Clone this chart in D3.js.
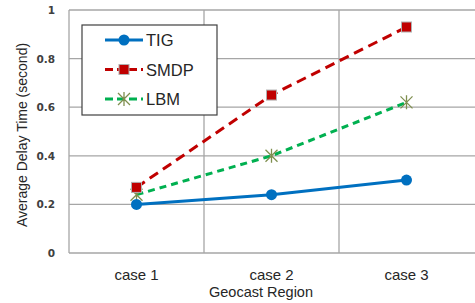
<!DOCTYPE html>
<html><head><meta charset="utf-8">
<script src="https://cdn.jsdelivr.net/npm/d3@7"></script>
<style>body{margin:0;background:#fff}</style>
</head><body>
<svg id="c" width="475" height="303"></svg>
<script>
const categories = ["case 1", "case 2", "case 3"];
const tig = [0.20, 0.24, 0.30];
const smdp = [0.27, 0.65, 0.93];
const lbm = [0.24, 0.40, 0.62];
const yTicks = [0, 0.2, 0.4, 0.6, 0.8, 1];
const seriesNames = ["TIG", "SMDP", "LBM"];

const svg = d3.select("#c");
const L = 69, R = 474, T = 10, B = 253;
const x = d3.scaleBand().domain(categories).range([L, R]);
const y = d3.scaleLinear().domain([0, 1]).range([B, T]);
const grid = "#a6a6a6";

// horizontal grid
svg.append("g").selectAll("line").data(yTicks).join("line")
  .attr("x1", L).attr("x2", 475).attr("y1", d => y(d)).attr("y2", d => y(d))
  .attr("stroke", grid).attr("stroke-width", 1.3);
// vertical grid at band boundaries
const vb = categories.map(c => x(c));
svg.append("g").selectAll("line").data(vb).join("line")
  .attr("x1", d => d).attr("x2", d => d).attr("y1", T).attr("y2", B)
  .attr("stroke", grid).attr("stroke-width", 1.3);

// y tick labels
svg.append("g").selectAll("text").data(yTicks).join("text")
  .attr("x", 55).attr("y", d => y(d) + 4).attr("text-anchor", "end")
  .attr("font-family", "DejaVu Sans, sans-serif").attr("font-size", 10.5).attr("font-weight", "bold")
  .attr("fill", "#404040").text(d => d === 0 ? "0" : d === 1 ? "1" : d.toFixed(1));

// x labels
svg.append("g").selectAll("text").data(categories).join("text")
  .attr("x", d => x(d) + x.bandwidth()/2).attr("y", 280).attr("text-anchor", "middle")
  .attr("font-family", "Liberation Sans, Arial, sans-serif").attr("font-size", 15)
  .attr("fill", "#262626").text(d => d);
svg.append("text").attr("x", 261).attr("y", 297).attr("text-anchor", "middle")
  .attr("font-family", "Liberation Sans, Arial, sans-serif").attr("font-size", 14.5)
  .attr("fill", "#262626").text("Geocast Region");
svg.append("text").attr("transform", "translate(27,135) rotate(-90)").attr("text-anchor", "middle")
  .attr("font-family", "Liberation Sans, Arial, sans-serif").attr("font-size", 14)
  .attr("fill", "#262626").text("Average Delay Time (second)");

const cx = c => x(c) + x.bandwidth()/2;
const line = d3.line().x((d,i) => cx(categories[i])).y(d => y(d));

const styles = [
  {data: tig, color: "#0070C0", dash: null},
  {data: smdp, color: "#C00000", dash: "10,6"},
  {data: lbm, color: "#00B050", dash: "7,5"}
];
styles.forEach(s => {
  svg.append("path").attr("d", line(s.data)).attr("fill", "none")
    .attr("stroke", s.color).attr("stroke-width", 3).attr("stroke-dasharray", s.dash);
});

function circleMark(g, px, py) {
  g.append("circle").attr("cx", px).attr("cy", py).attr("r", 5.5).attr("fill", "#0070C0");
}
function squareMark(g, px, py) {
  g.append("rect").attr("x", px-5).attr("y", py-5).attr("width", 10).attr("height", 10)
    .attr("fill", "#C00000").attr("stroke", "#b0b0b0").attr("stroke-width", 1);
}
function starMark(g, px, py) {
  const r = 6;
  const p = `M${px-r},${py-r}L${px+r},${py+r}M${px-r},${py+r}L${px+r},${py-r}M${px},${py-r-1}L${px},${py+r+1}`;
  g.append("path").attr("d", p).attr("stroke", "#7f8f4f").attr("stroke-width", 1.3).attr("fill", "none");
}
const marks = [circleMark, squareMark, starMark];
const mg = svg.append("g");
[lbm, smdp, tig].forEach((d, k) => {
  const f = [starMark, squareMark, circleMark][k];
  d.forEach((v, i) => f(mg, cx(categories[i]), y(v)));
});

// legend
const lg = svg.append("g");
lg.append("rect").attr("x", 82).attr("y", 25).attr("width", 135).attr("height", 90)
  .attr("fill", "#fff").attr("stroke", "#404040").attr("stroke-width", 1.2);
seriesNames.forEach((n, i) => {
  const ly = 40 + i * 29.5;
  lg.append("line").attr("x1", 105).attr("x2", 143).attr("y1", ly).attr("y2", ly)
    .attr("stroke", styles[i].color).attr("stroke-width", 3).attr("stroke-dasharray", i === 0 ? null : "8,4");
  marks[i](lg, 124, ly);
  lg.append("text").attr("x", 146).attr("y", ly + 6)
    .attr("font-family", "Liberation Sans, Arial, sans-serif").attr("font-size", 16.5)
    .attr("fill", "#262626").text(n);
});
</script>
</body></html>
